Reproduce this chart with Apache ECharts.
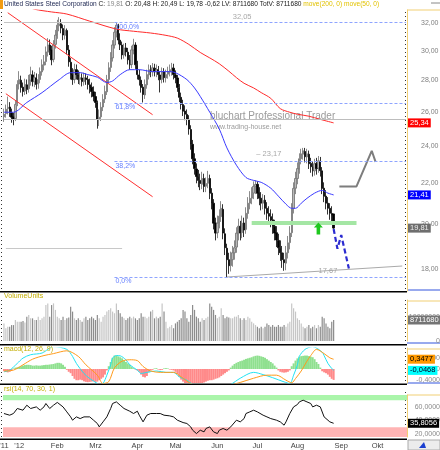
<!DOCTYPE html>
<html>
<head>
<meta charset="utf-8">
<script src="https://cdn.jsdelivr.net/npm/echarts@6/dist/echarts.min.js"></script>
<style>
  html, body { margin: 0; padding: 0; background: #fff; }
  #chart { width: 440px; height: 450px; }
</style>
</head>
<body>
<div id="chart"></div>
<script>
// --- values ---
const stockName = 'United States Steel Corporation'
const slotCount = 212 // trading-day slots, the last ones are empty (Sep/Okt)
const monthLabels = [[0, "'11"], [8, "'12"], [28, 'Feb'], [48, 'Mrz'], [70, 'Apr'], [90, 'Mai'], [112, 'Jun'], [133, 'Jul'], [154, 'Aug'], [177, 'Sep'], [196, 'Okt']]
const priceTicks = [18, 20, 22, 24, 26, 28, 30, 32]

// [open, close, low, high]
const ohlc = [
  [25.70,25.86,25.40,26.20],[25.90,26.16,25.65,26.45],[26.20,26.28,25.85,26.95],[26.30,25.98,25.70,26.60],[25.95,25.68,25.35,26.20],
  [25.70,25.56,25.20,25.95],[25.60,26.46,25.45,26.70],[26.50,27.72,26.35,28.00],[27.75,28.04,27.40,28.60],[28.00,27.53,27.20,28.30],
  [27.55,27.27,26.95,27.85],[27.30,27.72,27.05,28.10],[27.70,27.40,27.10,28.05],[27.45,28.04,27.20,28.35],[28.00,28.37,27.65,28.90],
  [28.35,27.91,27.60,28.65],[27.90,28.17,27.55,28.55],[28.15,27.72,27.40,28.45],[27.75,28.04,27.45,28.40],[28.05,28.57,27.80,28.85],
  [28.55,29.03,28.30,29.40],[29.00,29.23,28.65,29.70],[29.25,29.92,29.00,30.30],[29.90,30.41,29.60,30.90],[30.40,30.06,29.70,30.80],
  [30.05,29.37,29.00,30.35],[29.40,30.41,29.20,30.75],[30.45,31.12,30.15,31.50],[31.10,31.85,30.85,32.25],[31.80,31.95,31.40,32.45],
  [31.95,31.63,31.25,32.30],[31.60,31.12,30.75,31.90],[31.10,31.48,30.80,31.85],[31.45,30.06,29.75,31.60],[30.05,29.23,28.90,30.40],
  [29.20,28.37,28.05,29.50],[28.40,28.04,27.70,28.80],[28.05,28.70,27.80,29.10],[28.70,28.37,28.05,29.05],[28.35,28.04,27.75,28.65],
  [28.05,28.17,27.70,28.55],[28.15,27.91,27.60,28.45],[27.90,28.17,27.65,28.50],[28.15,28.04,27.70,28.45],[28.05,27.72,27.40,28.30],
  [27.70,27.53,27.15,28.10],[27.55,27.27,26.90,27.85],[27.25,26.96,26.65,27.60],[26.95,26.58,26.25,27.25],[26.55,25.56,25.00,26.70],
  [25.55,25.68,25.15,26.15],[25.70,26.28,25.45,26.60],[26.30,26.77,26.05,27.10],[26.80,27.27,26.55,27.65],[27.25,28.04,27.05,28.35],
  [28.05,28.83,27.80,29.20],[28.85,29.50,28.55,29.90],[29.50,30.41,29.25,30.75],[30.40,31.33,30.15,31.70],[31.35,31.85,30.95,32.05],
  [31.80,30.76,30.45,31.95],[30.75,30.41,30.05,31.25],[30.40,29.71,29.40,30.65],[29.70,30.20,29.45,30.50],[30.20,29.92,29.60,30.55],
  [29.90,29.37,29.05,30.20],[29.35,29.03,28.70,29.70],[29.05,30.06,28.80,30.35],[30.05,30.41,29.75,30.85],[30.40,29.03,28.75,30.60],
  [29.00,28.37,28.05,29.30],[28.35,28.04,27.65,28.70],[28.00,27.53,27.20,28.25],[27.55,27.08,26.58,27.75],[27.05,27.72,26.80,28.05],
  [27.70,28.37,27.45,28.70],[28.35,28.70,28.05,29.05],[28.70,28.57,28.20,29.00],[28.55,28.83,28.25,29.15],[28.80,28.57,28.25,29.10],
  [28.55,28.70,28.20,29.05],[28.70,28.37,28.00,28.95],[28.35,28.04,27.21,28.60],[28.05,28.57,27.80,28.85],[28.55,28.17,27.85,28.80],
  [28.15,28.37,27.85,28.70],[28.40,28.57,28.10,28.90],[28.55,28.70,28.25,29.05],[28.70,28.83,28.30,29.16],[28.80,28.37,28.05,29.10],
  [28.35,28.17,27.80,28.65],[28.15,27.53,27.25,28.35],[27.50,26.90,26.60,27.75],[26.90,26.46,26.15,27.20],[26.45,26.04,25.75,26.75],
  [26.05,25.86,25.50,26.40],[25.85,25.56,25.20,26.15],[25.55,24.98,24.65,25.80],[24.95,24.12,23.80,25.20],[24.10,23.30,23.00,24.35],
  [23.30,22.77,22.45,23.60],[22.75,22.35,22.00,23.05],[22.35,22.15,21.80,22.70],[22.15,21.99,21.65,22.50],[21.95,22.25,21.70,22.60],
  [22.25,21.84,21.55,22.50],[21.85,21.99,21.55,22.30],[22.00,22.25,21.75,22.65],[22.25,21.49,21.20,22.45],[21.50,21.00,20.70,21.75],
  [21.00,20.04,19.75,21.20],[20.05,19.58,19.25,20.30],[19.60,20.04,19.35,20.40],[20.05,20.37,19.80,20.70],[20.35,20.75,20.10,21.10],
  [20.70,19.58,19.30,20.95],[19.55,18.92,18.60,19.80],[18.90,18.40,17.67,19.10],[18.40,18.14,17.80,18.70],[18.15,18.40,17.90,18.75],
  [18.40,18.70,18.10,19.00],[18.70,18.92,18.40,19.25],[18.95,19.58,18.70,19.85],[19.55,19.90,19.25,20.25],[19.90,19.58,19.25,20.15],
  [19.60,20.04,19.35,20.40],[20.05,19.72,19.40,20.30],[19.75,20.51,19.55,20.80],[20.50,21.00,20.25,21.30],[21.00,21.24,20.70,21.60],
  [21.25,21.49,20.95,21.80],[21.50,21.84,21.20,22.10],[21.85,21.94,21.45,22.15],[21.95,21.49,21.20,22.10],[21.50,21.24,20.90,21.80],
  [21.25,21.00,20.65,21.55],[21.00,21.14,20.70,21.45],[21.15,20.75,20.45,21.40],[20.75,20.51,20.20,21.05],[20.50,20.37,20.00,20.85],
  [20.35,20.18,19.85,20.70],[20.20,19.90,19.55,20.50],[19.90,19.58,19.25,20.20],[19.60,19.27,18.95,19.90],[19.25,18.92,18.60,19.55],
  [18.90,18.70,18.35,19.25],[18.70,18.40,18.05,19.00],[18.40,18.27,17.93,18.70],[18.25,18.70,17.95,19.00],[18.70,19.14,18.45,19.45],
  [19.15,19.58,18.85,19.90],[19.60,20.75,19.40,21.00],[20.75,21.74,20.50,22.05],[21.75,22.25,21.45,22.60],[22.25,22.77,21.95,23.10],
  [22.75,23.30,22.50,23.60],[23.30,23.57,23.00,23.85],[23.55,23.74,23.25,23.90],[23.70,23.41,23.10,23.90],[23.40,23.57,23.05,23.85],
  [23.55,23.03,22.75,23.75],[23.05,22.87,22.55,23.35],[22.85,22.66,22.35,23.15],[22.65,23.03,22.40,23.30],[23.05,22.77,22.45,23.35],
  [22.80,23.19,22.55,23.45],[23.15,22.66,22.35,23.40],[22.65,21.74,21.45,22.85],[21.75,21.34,21.05,22.05],[21.35,21.00,20.70,21.65],
  [21.00,20.75,20.45,21.30],[20.75,20.51,20.20,21.00],[20.50,20.43,20.10,20.85],[20.48,19.81,19.78,20.49]
]

// volume in millions of shares
const volume = [
  7.3,5.3,5.9,5.9,6.6,6.6,8.7,8.0,8.0,8.0, 8.3,7.7,10.1,10.8,9.4,9.4,8.7,8.7,10.1,8.7,
  9.4,10.1,14.9,15.6,10.1,14.9,15.6,12.9,10.1,9.4, 8.7,10.1,8.7,9.4,9.7,14.2,12.2,9.4,8.7,9.4,
  8.7,8.0,9.4,10.1,8.7,9.4,10.1,9.4,8.7,10.8, 9.4,8.0,10.1,10.8,12.2,12.9,13.6,12.2,11.5,15.6,
  12.9,11.5,10.1,9.4,8.7,9.4,10.1,9.4,10.1,9.4, 8.7,9.4,11.5,10.1,10.1,9.4,10.1,12.2,12.9,9.4,
  10.1,9.4,10.1,15.6,12.2,8.0,5.3,5.9,6.6,5.3, 7.3,8.0,8.7,9.4,12.9,12.2,9.4,8.0,10.8,14.9,
  12.9,10.1,9.4,8.0,9.4,8.7,9.4,10.1,15.6,14.2, 12.9,10.8,9.4,10.1,13.6,10.8,9.4,10.1,9.7,9.4,
  9.4,10.1,10.1,10.8,9.4,8.7,9.4,8.7,10.1,9.4, 8.0,7.3,6.6,5.9,5.3,5.9,5.3,5.9,7.3,6.6,
  5.9,6.6,5.9,5.9,6.6,5.9,5.9,6.6,5.9,7.3, 8.0,15.6,13.6,12.2,9.4,8.7,7.3,5.9,5.3,5.9,
  6.6,5.3,5.9,6.6,5.3,6.6,5.9,10.1,9.4,7.3, 5.9,5.3,8.0,8.71
]
const lastVolume = 8711680

// moving averages, [slot, price]
const ma200 = [[0,33.7],[10,33.35],[16,33.06],[25,32.85],[33,32.69],[45,32.15],[59,31.56],[68,31.4],[77,31.27],[85,31.1],[91,30.9],
  [97,30.45],[103,29.88],[108,29.5],[113,29.1],[118,28.6],[122,28.17],[126,27.8],[131,27.5],[135,27.2],[140,26.84],[145,26.2],
  [150,25.98],[154,25.86],[160,25.74],[166,25.55],[173,25.34]]
const ma50 = [[0,25.98],[5,25.98],[12,26.58],[20,27.2],[29,28.04],[35,28.5],[40,28.5],[44,28.37],[49,28.2],[54,27.85],[57,27.95],
  [61,28.37],[66,28.7],[71,28.7],[78,28.57],[87,28.57],[90,28.5],[96,28.04],[100,27.5],[103,26.96],[108,25.98],[113,24.98],
  [117,23.9],[122,22.95],[127,22.3],[131,22.15],[135,22.05],[140,21.75],[144,21.35],[148,20.95],[151,20.75],[153,20.75],
  [156,21.0],[159,21.24],[163,21.5],[167,21.64],[170,21.5],[173,21.41]]

// drawing tools on the price panel
const fibLevels = [[32.05, '100,0%'], [26.56, '61,8%'], [23.17, '38,2%'], [17.67, '0,0%']]
const fibStart = 58
const resistanceLevel = 25.55
const oldLowLevel = 18.92
const supportZone = 20.08
const channelUpper = [[2, 32.79], [78, 25.83]]
const channelLower = [[1, 27.13], [78, 21.32]]
const supportLine = [[117, 17.67], [209, 18.13]]
const projectionDown = [[173, 19.77], [175, 18.88], [177, 19.49], [181, 18.02]]
const projectionUp = [[176, 21.84], [185, 21.84], [193, 23.74], [195, 23.13]]

// MACD
const macdHist = [
  -0.08,-0.1,-0.12,-0.1,-0.06, 0.02,0.05,0.06,0.08, 0.1,0.12,0.14,0.15,0.15,0.14, 0.12,0.12,0.13,0.12,0.12,0.13,
  0.14,0.15,0.15,0.16,0.17,0.18, 0.2,0.22,0.22,0.2,0.15,0.08, -0.03,-0.1,-0.15, -0.25,-0.35,-0.4,-0.4,-0.38,-0.4,
  -0.44,-0.46,-0.47,-0.46,-0.45,-0.44,-0.46,-0.45,-0.4, -0.35,-0.3,-0.2,-0.05, 0.1,0.25,0.4,0.48,0.48,0.45,0.42,
  0.38,0.3,0.25,0.2,0.15,0.08, 0.03,-0.02,-0.05,-0.1, -0.2,-0.28,-0.3,-0.25,-0.12,
  -0.05,-0.03,0.02,0.03,-0.02,-0.04,-0.03,0.02,0.03,0.02,-0.02,-0.03,-0.05,
  -0.1,-0.18,-0.28,-0.38,-0.45,-0.55,-0.6,-0.6, -0.62,-0.6,-0.58,-0.55,-0.52,-0.5,-0.5,-0.48,-0.45,
  -0.42,-0.4,-0.4,-0.38,-0.35,-0.33,-0.3, -0.25,-0.2,-0.15,-0.1,-0.05, 0.05,0.12,0.18,0.22,0.25,0.28,
  0.3,0.33,0.36,0.38,0.4,0.42,0.45, 0.47,0.48,0.47,0.45,0.43,0.4, 0.35,0.3,0.25,0.2,0.12,0.05,
  -0.05,-0.1,-0.12,-0.13,-0.12,-0.1,-0.05, 0.1,0.2,0.3,0.38,0.44, 0.46,0.47,0.48,0.48,0.46,0.44,0.42,
  0.35,0.25,0.18,0.05, -0.08,-0.12,-0.15,-0.2,-0.28,-0.35,-0.39
]
const macdLine = [[0,-0.1],[3,-0.04],[7,0.2],[10,0.39],[14,0.51],[20,0.57],[26,0.8],[33,0.7],[36,0.45],[38,0.2],[42,-0.16],
  [45,-0.34],[49,-0.52],[50,-0.6],[52,-0.52],[54,-0.22],[56,0.15],[57,0.39],[59,0.48],[61,0.47],[64,0.33],[66,0.15],[70,-0.04],
  [72,-0.16],[75,-0.12],[80,-0.07],[85,-0.12],[89,-0.12],[92,-0.28],[96,-0.4],[99,-0.55],[106,-0.75],[113,-0.7],[119,-0.55],
  [124,-0.33],[131,-0.12],[136,-0.2],[141,-0.31],[147,-0.46],[150,-0.52],[152,-0.22],[154,0.15],[155,0.45],[158,0.7],[162,0.8],
  [167,0.6],[168,0.48],[170,0.2],[172,0.02],[173,-0.0468]]
const macdSignal = [[0,-0.07],[5,-0.04],[10,0.15],[15,0.35],[21,0.48],[26,0.55],[33,0.65],[39,0.45],[43,0.15],[49,-0.22],
  [52,-0.52],[55,-0.45],[58,0.04],[62,0.28],[66,0.33],[70,0.3],[73,0.09],[77,-0.07],[82,-0.12],[89,-0.12],[93,-0.28],[98,-0.52],
  [106,-0.7],[117,-0.6],[124,-0.48],[131,-0.33],[138,-0.22],[143,-0.22],[148,-0.4],[151,-0.49],[153,-0.34],[156,-0.07],
  [159,0.28],[161,0.48],[164,0.7],[168,0.55],[171,0.4],[173,0.3477]]

// RSI(14)
const rsi = [[0,50.3],[1,52.7],[3,47.8],[5,50.3],[7,57.7],[8,60.1],[10,55.2],[12,62.6],[14,57.7],[15,55.2],[17,60.1],[19,55.2],
  [21,60.1],[22,65.1],[24,57.7],[26,62.6],[28,66.7],[29,65.1],[31,60.1],[33,52.7],[35,45.3],[36,40.4],[38,45.3],[40,42.8],
  [42,45.3],[43,42.8],[45,45.3],[47,40.4],[49,35.5],[50,30.5],[52,37.9],[54,45.3],[56,57.7],[57,65.1],[59,67.5],[61,62.6],
  [63,57.7],[64,55.2],[66,53.7],[68,50.3],[70,53.7],[71,47.8],[73,37.9],[75,47.8],[77,50.3],[78,52.7],[80,50.3],[82,50.3],
  [84,47.8],[85,50.3],[87,46.8],[89,45.3],[91,40.4],[92,37.9],[94,36.9],[96,35.5],[98,30.5],[99,25.6],[101,20.6],[103,25.6],
  [105,23.1],[106,28.1],[108,30.5],[110,23.1],[112,20.6],[113,25.6],[115,28.1],[117,25.6],[119,30.5],[120,33],[122,40.4],
  [124,37.9],[126,42.8],[127,50.3],[129,52.7],[131,55.2],[133,52.7],[134,50.3],[136,47.8],[138,45.3],[140,42.8],[141,43.8],
  [143,40.4],[145,37.9],[147,33],[148,37.9],[150,50.3],[152,60.1],[154,63.6],[155,67.5],[157,70],[159,67.5],[161,65.1],
  [162,60.1],[164,62.6],[166,60.1],[168,45.3],[169,42.8],[171,37.9],[172,36.5],[173,35.8056]]

// --- helpers ---
const fmt = (v, d) => v.toFixed(d).replace('.', ',')
const last = ohlc[ohlc.length - 1]
const prevClose = ohlc[ohlc.length - 2][1]
const slots = Array.from({ length: slotCount }, (_, i) => String(i))
const labelMap = new Map(monthLabels)
const lastMa200 = ma200[ma200.length - 1][1]
const lastMa50 = ma50[ma50.length - 1][1]
const lastMacd = macdLine[macdLine.length - 1][1]
const lastSignal = macdSignal[macdSignal.length - 1][1]
const lastRsi = rsi[rsi.length - 1][1]

const font = 'Liberation Sans, Arial, sans-serif'
const noLine = { color: 'rgba(0,0,0,0)', width: 1, type: 'solid' }

// label box at the right axis, for the last value of a series
function valueBox(value, text, bg, color) {
  return {
    yAxis: value, lineStyle: noLine,
    label: { show: true, position: 'end', distance: 1, formatter: text, backgroundColor: bg, color,
      fontSize: 7.5, fontFamily: font, padding: [1, 2, 0, 2] }
  }
}
function segment(x0, x1, y, lineStyle, label) {
  return [{ coord: [x0, y], lineStyle, label: label || { show: false } }, { coord: [x1, y] }]
}

const fibStyle = { color: '#8ea4ff', width: 1, type: [3, 2] }
const fibLabel = t => ({ show: true, position: 'insideStartBottom', distance: 1, formatter: t, color: '#6680ff', fontSize: 7, fontFamily: font })

const grids = [
  { left: 3, right: 33, top: 10, height: 281 },
  { left: 3, right: 33, top: 300, height: 41 },
  { left: 3, right: 33, top: 348, height: 35 },
  { left: 3, right: 33, top: 395, height: 42 },
].map(g => ({ ...g, outerBoundsMode: 'none' }))

const xAxes = grids.map((g, k) => ({
  type: 'category', gridIndex: k, data: slots, boundaryGap: true,
  axisLine: { show: false }, axisTick: { show: false }, splitLine: { show: false },
  axisLabel: k === 3
    ? { show: true, interval: i => labelMap.has(i), formatter: v => labelMap.get(+v), fontSize: 7.5, color: '#444', margin: 5, fontFamily: font }
    : { show: false },
}))

const yAxisLine = { show: true, lineStyle: { color: '#f1cf74', width: 1 } }
const sideLabel = (values, f) => ({ show: true, customValues: values, formatter: f, align: 'right', margin: 33, fontSize: 7, color: '#8a8a8a', fontFamily: font })

const yAxes = [
  { type: 'log', logBase: 10, gridIndex: 0, min: 17.1, max: 33, position: 'right', axisLine: yAxisLine,
    axisTick: { show: false }, axisLabel: { show: false }, splitLine: { show: false } },
  { type: 'value', gridIndex: 1, min: 0, max: 17, position: 'right', axisLine: yAxisLine, axisTick: { show: false },
    splitLine: { show: false }, axisLabel: sideLabel([0, 10], v => (v === 0 ? '0' : '10000000')) },
  { type: 'value', gridIndex: 2, min: -0.5, max: 0.75, position: 'right', axisLine: yAxisLine, axisTick: { show: false },
    splitLine: { show: false }, axisLabel: sideLabel([-0.4, 0, 0.4], v => (v === 0 ? '0' : fmt(v, 4))) },
  { type: 'value', gridIndex: 3, min: 15.5, max: 77.7, position: 'right', axisLine: yAxisLine, axisTick: { show: false },
    splitLine: { show: false }, axisLabel: sideLabel([20, 40, 60], v => fmt(v, 4)) },
]

const header = `{n|${stockName}} {k|C:} {g|${fmt(last[1], 2)}} {k|O: ${fmt(last[0], 2)} H: ${fmt(last[3], 2)} L: ${fmt(last[2], 2)} ${fmt(last[1] - prevClose, 2)} LV: ${lastVolume} TotV: ${lastVolume}} {y|move(200, 0) move(50, 0)}`
const hs = { fontSize: 6.6, fontFamily: font }

const panelTitle = (text, top) => ({ text, left: 4, top, padding: 0,
  textStyle: { fontSize: 7, color: '#c3ad00', fontWeight: 'normal', fontFamily: font } })

// chrome: panel separators, right-axis caps, dotted tick strips
const sepY = [291, 344, 383.5, 438.5]
const graphics = []
sepY.forEach(y => graphics.push({ type: 'rect', shape: { x: 0, y, width: 407, height: 1.6 }, style: { fill: '#000' } }))
;[290, 343, 383].forEach(y => graphics.push({ type: 'line', shape: { x1: 407, y1: y, x2: 440, y2: y }, style: { stroke: '#3355dd', lineWidth: 1 } }))
;[10, 301, 349, 395].forEach(y => graphics.push({ type: 'line', shape: { x1: 407, y1: y, x2: 440, y2: y }, style: { stroke: '#f1cf74', lineWidth: 1 } }))
;[[12, 289], [300, 342], [348, 382], [392, 437]].forEach(([a, b]) => {
  graphics.push({ type: 'line', shape: { x1: 1.5, y1: a, x2: 1.5, y2: b }, style: { stroke: '#333', lineWidth: 1, lineDash: [1, 3] } })
  graphics.push({ type: 'line', shape: { x1: 405.5, y1: a, x2: 405.5, y2: b }, style: { stroke: '#333', lineWidth: 1, lineDash: [1, 3] } })
})
graphics.push(
  { type: 'rect', shape: { x: 0, y: 0, width: 3, height: 9 }, style: { fill: '#f39c12' } },
  { type: 'line', shape: { x1: 431, y1: 3, x2: 440, y2: 3 }, style: { stroke: '#888', lineWidth: 1 } },
  { type: 'rect', shape: { x: 408, y: 440, width: 32, height: 10 }, style: { fill: '#ececec', stroke: '#aaa' } },
  { type: 'polygon', shape: { points: [[419, 448], [424, 442], [426, 448]] }, style: { fill: '#1a3fd0' } },
  { type: 'text', left: 210, top: 111, z: 1, style: { text: 'bluchart Professional Trader', fontSize: 10, fill: 'rgba(120,120,120,0.75)', fontFamily: font } },
  { type: 'text', left: 210, top: 124, z: 1, style: { text: 'www.trading-house.net', fontSize: 7, fill: 'rgba(120,120,120,0.75)', fontFamily: font } },
)

const chart = echarts.init(document.getElementById('chart'))
chart.setOption({
  animation: false,
  backgroundColor: '#fff',
  title: [
    { left: 4, top: 1, padding: 0, text: header,
      textStyle: { ...hs, fontWeight: 'normal', color: '#1a1a1a',
        rich: { n: { ...hs, color: '#1c2550' }, k: { ...hs, color: '#1a1a1a' }, g: { ...hs, color: '#8a8a8a' }, y: { ...hs, color: '#e2c200' } } } },
    panelTitle('VolumeUnits', 293),
    panelTitle('macd(12, 26, 9)', 346),
    panelTitle('rsi(14, 70, 30, 1)', 386),
  ],
  grid: grids,
  xAxis: xAxes,
  yAxis: yAxes,
  graphic: graphics,
  series: [
    {
      type: 'candlestick', xAxisIndex: 0, yAxisIndex: 0, data: ohlc, barWidth: 1.8,
      itemStyle: { color: '#b8b8b8', color0: '#000', borderColor: '#6e6e6e', borderColor0: '#000', borderWidth: 0.8 },
      markLine: {
        silent: true, symbol: ['none', 'none'], animation: false,
        data: [
          ...priceTicks.map(p => ({ yAxis: p, lineStyle: noLine,
            label: { show: true, position: 'end', distance: 14, formatter: fmt(p, 2), color: '#808080', fontSize: 7, fontFamily: font } })),
          segment(0, fibStart, fibLevels[0][0], { color: '#c4c4c4', width: 1, type: 'solid' }),
          ...fibLevels.map(([v, t]) => segment(fibStart, 211, v, fibStyle, fibLabel(t))),
          segment(0, 211, resistanceLevel, { color: '#bdbdbd', width: 1, type: 'solid' }),
          segment(1, 62, oldLowLevel, { color: '#c8c8c8', width: 1, type: 'solid' }),
          segment(130, 185, supportZone, { color: '#a4e6a4', width: 4, type: 'solid' }),
        ],
      },
      markPoint: {
        silent: true, animation: false,
        data: [
          { coord: [125, fibLevels[0][0]], symbol: 'rect', symbolSize: 0,
            label: { show: true, formatter: fmt(fibLevels[0][0], 2), color: '#a8a8a8', fontSize: 7.5, fontFamily: font, offset: [0, -6] } },
          { coord: [139, fibLevels[2][0]], symbol: 'rect', symbolSize: 0,
            label: { show: true, formatter: '– ' + fmt(fibLevels[2][0], 2), color: '#a8a8a8', fontSize: 7.5, fontFamily: font, offset: [0, -7] } },
          { coord: [170, fibLevels[3][0]], symbol: 'rect', symbolSize: 0,
            label: { show: true, formatter: fmt(fibLevels[3][0], 2), color: '#a8a8a8', fontSize: 7.5, fontFamily: font, offset: [0, -6] } },
          { coord: [165, 19.79], symbol: 'path://M5 0 L10 5 L7 5 L7 12 L3 12 L3 5 L0 5 Z', symbolSize: [9, 12],
            itemStyle: { color: '#1ec81e' }, label: { show: false } },
        ],
      },
    },
    { type: 'line', xAxisIndex: 0, yAxisIndex: 0, data: channelUpper, showSymbol: false, lineStyle: { color: '#ff3030', width: 1 } },
    { type: 'line', xAxisIndex: 0, yAxisIndex: 0, data: channelLower, showSymbol: false, lineStyle: { color: '#ff3030', width: 1 } },
    { type: 'line', xAxisIndex: 0, yAxisIndex: 0, data: supportLine, showSymbol: false, lineStyle: { color: '#aaaaaa', width: 1 } },
    {
      type: 'line', xAxisIndex: 0, yAxisIndex: 0, data: ma200, showSymbol: false, smooth: 0.3,
      lineStyle: { color: '#ff2a2a', width: 1 },
      markLine: { silent: true, symbol: ['none', 'none'], animation: false, data: [valueBox(lastMa200, fmt(lastMa200, 2), '#ff0000', '#fff')] },
    },
    {
      type: 'line', xAxisIndex: 0, yAxisIndex: 0, data: ma50, showSymbol: false, smooth: 0.3,
      lineStyle: { color: '#3a3aff', width: 1 },
      markLine: { silent: true, symbol: ['none', 'none'], animation: false, data: [valueBox(lastMa50, fmt(lastMa50, 2), '#0000ff', '#fff')] },
    },
    {
      type: 'line', xAxisIndex: 0, yAxisIndex: 0, data: projectionDown, showSymbol: false,
      lineStyle: { color: '#2b2bd0', width: 2.2, type: [5, 3] },
      markLine: { silent: true, symbol: ['none', 'none'], animation: false, data: [valueBox(last[1], fmt(last[1], 2), '#6e6e6e', '#eee')] },
    },
    { type: 'line', xAxisIndex: 0, yAxisIndex: 0, data: projectionUp, showSymbol: false, lineStyle: { color: '#7d7d7d', width: 2 } },
    {
      type: 'bar', xAxisIndex: 1, yAxisIndex: 1, barWidth: 1.2,
      data: volume.map((v, i) => ({ value: v, itemStyle: { color: ohlc[i][1] >= ohlc[i][0] ? '#c6c6c6' : '#8c8c8c' } })),
      markLine: { silent: true, symbol: ['none', 'none'], animation: false, data: [valueBox(volume[volume.length - 1], String(lastVolume), '#747474', '#fff')] },
    },
    {
      type: 'bar', xAxisIndex: 2, yAxisIndex: 2, barWidth: 2,
      data: macdHist.map(v => ({ value: v, itemStyle: { color: v >= 0 ? '#8fe08f' : '#ff8a8a' } })),
    },
    {
      type: 'line', xAxisIndex: 2, yAxisIndex: 2, data: macdLine, showSymbol: false, smooth: 0.3,
      lineStyle: { color: '#22e2f2', width: 1 },
      markLine: { silent: true, symbol: ['none', 'none'], animation: false, data: [valueBox(lastMacd, fmt(lastMacd, 4), '#00ffff', '#002')] },
    },
    {
      type: 'line', xAxisIndex: 2, yAxisIndex: 2, data: macdSignal, showSymbol: false, smooth: 0.3,
      lineStyle: { color: '#ff9a1a', width: 1 },
      markLine: { silent: true, symbol: ['none', 'none'], animation: false, data: [valueBox(lastSignal, fmt(lastSignal, 4), '#ff9900', '#000')] },
    },
    {
      type: 'line', xAxisIndex: 3, yAxisIndex: 3, data: rsi, showSymbol: false,
      lineStyle: { color: '#111', width: 1 },
      markArea: { silent: true, data: [
        [{ yAxis: 70, itemStyle: { color: '#aaf5aa' } }, { yAxis: 77.7 }],
        [{ yAxis: 15.5, itemStyle: { color: '#ffb4b4' } }, { yAxis: 30 }],
      ] },
      markLine: { silent: true, symbol: ['none', 'none'], animation: false, data: [valueBox(lastRsi, fmt(lastRsi, 4), '#000', '#fff')] },
    },
  ],
})
</script>
</body>
</html>
